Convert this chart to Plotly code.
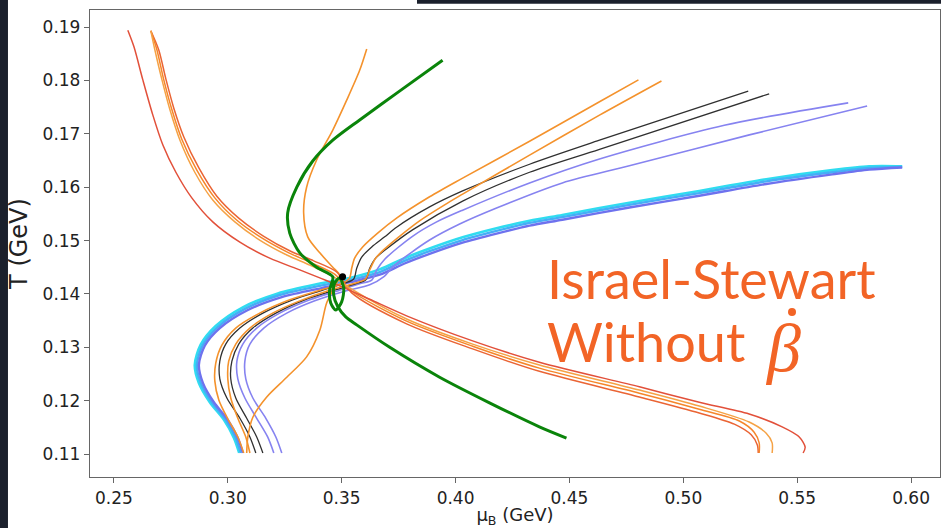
import plotly.graph_objects as go

# ---- trajectories in the (mu_B, T) plane, GeV ----
# lines rising from T = 0.11 towards the upper right
orange1_mu = [0.3070, 0.3044, 0.3000, 0.2961, 0.2943, 0.2947, 0.2974, 0.3035, 0.3140, 0.3272, 0.3404, 0.3504, 0.3535, 0.3544, 0.3557, 0.3592, 0.3658, 0.3741, 0.3886, 0.4031, 0.4325, 0.4632, 0.4803]
orange1_T = [0.1102, 0.1132, 0.1166, 0.1201, 0.1237, 0.1270, 0.1304, 0.1336, 0.1364, 0.1389, 0.1407, 0.1420, 0.1430, 0.1448, 0.1467, 0.1488, 0.1514, 0.1542, 0.1582, 0.1617, 0.1686, 0.1760, 0.1801]

orange2_mu = [0.3097, 0.3079, 0.3044, 0.3013, 0.3000, 0.3004, 0.3035, 0.3097, 0.3197, 0.3316, 0.3447, 0.3557, 0.3605, 0.3623, 0.3649, 0.3693, 0.3754, 0.3842, 0.3952, 0.4031, 0.4325, 0.4632, 0.4904]
orange2_T = [0.1102, 0.1132, 0.1167, 0.1205, 0.1241, 0.1274, 0.1306, 0.1336, 0.1364, 0.1387, 0.1407, 0.1420, 0.1428, 0.1445, 0.1467, 0.1486, 0.1508, 0.1537, 0.1567, 0.1587, 0.1660, 0.1735, 0.1799]

black1_mu = [0.3123, 0.3097, 0.3053, 0.2996, 0.2965, 0.2965, 0.2991, 0.3053, 0.3154, 0.3285, 0.3417, 0.3513, 0.3553, 0.3566, 0.3588, 0.3632, 0.3689, 0.3741, 0.3886, 0.4031, 0.4325, 0.4632, 0.5285]
black1_T = [0.1102, 0.1132, 0.1167, 0.1205, 0.1241, 0.1274, 0.1306, 0.1336, 0.1364, 0.1389, 0.1407, 0.1420, 0.1428, 0.1448, 0.1469, 0.1488, 0.1507, 0.1525, 0.1563, 0.1593, 0.1643, 0.1688, 0.1780]

black2_mu = [0.3154, 0.3127, 0.3083, 0.3035, 0.3013, 0.3018, 0.3048, 0.3110, 0.3211, 0.3338, 0.3469, 0.3561, 0.3605, 0.3623, 0.3649, 0.3702, 0.3811, 0.4031, 0.4325, 0.4632, 0.5377]
black2_T = [0.1102, 0.1132, 0.1167, 0.1205, 0.1241, 0.1274, 0.1306, 0.1336, 0.1364, 0.1389, 0.1407, 0.1419, 0.1426, 0.1448, 0.1467, 0.1486, 0.1520, 0.1574, 0.1628, 0.1671, 0.1775]

purple1_mu = [0.3202, 0.3175, 0.3127, 0.3075, 0.3044, 0.3040, 0.3066, 0.3127, 0.3228, 0.3360, 0.3491, 0.3579, 0.3632, 0.3654, 0.3689, 0.3811, 0.3917, 0.4031, 0.4325, 0.4632, 0.5180, 0.5724]
purple1_T = [0.1102, 0.1132, 0.1167, 0.1205, 0.1241, 0.1274, 0.1306, 0.1336, 0.1364, 0.1389, 0.1407, 0.1419, 0.1426, 0.1445, 0.1465, 0.1508, 0.1535, 0.1557, 0.1608, 0.1653, 0.1716, 0.1758]

purple2_mu = [0.3237, 0.3211, 0.3167, 0.3110, 0.3079, 0.3075, 0.3097, 0.3158, 0.3259, 0.3382, 0.3513, 0.3623, 0.3684, 0.3733, 0.3886, 0.4018, 0.4180, 0.4469, 0.4763, 0.5290, 0.5807]
purple2_T = [0.1102, 0.1132, 0.1167, 0.1205, 0.1241, 0.1274, 0.1306, 0.1336, 0.1364, 0.1387, 0.1405, 0.1417, 0.1432, 0.1454, 0.1501, 0.1531, 0.1561, 0.1608, 0.1640, 0.1698, 0.1752]

# thick bundle: cyan, sky blue and slate blue
bundle_mu = [0.3057, 0.3035, 0.2991, 0.2930, 0.2882, 0.2864, 0.2890, 0.2956, 0.3075, 0.3228, 0.3404, 0.3535, 0.3667, 0.3776, 0.3886, 0.4031, 0.4180, 0.4325, 0.4469, 0.4763, 0.5070, 0.5364, 0.5654, 0.5816, 0.5961]
sky_T = [0.1102, 0.1130, 0.1164, 0.1197, 0.1233, 0.1267, 0.1304, 0.1338, 0.1372, 0.1398, 0.1415, 0.1426, 0.1441, 0.1462, 0.1480, 0.1501, 0.1518, 0.1533, 0.1544, 0.1567, 0.1589, 0.1611, 0.1628, 0.1636, 0.1638]
cyan_mu = [0.3050, 0.3027, 0.2983, 0.2921, 0.2873, 0.2855, 0.2881, 0.2947, 0.3066, 0.3220, 0.3400, 0.3535, 0.3667, 0.3776, 0.3886, 0.4031, 0.4180, 0.4325, 0.4469, 0.4763, 0.5070, 0.5364, 0.5654, 0.5816, 0.5961]
cyan_T = [0.1102, 0.1130, 0.1164, 0.1197, 0.1233, 0.1267, 0.1305, 0.1340, 0.1375, 0.1401, 0.1419, 0.1430, 0.1446, 0.1467, 0.1485, 0.1506, 0.1523, 0.1537, 0.1548, 0.1571, 0.1593, 0.1615, 0.1632, 0.1639, 0.1639]
slate_mu = [0.3066, 0.3044, 0.3000, 0.2939, 0.2891, 0.2873, 0.2899, 0.2965, 0.3084, 0.3237, 0.3413, 0.3540, 0.3667, 0.3776, 0.3886, 0.4031, 0.4180, 0.4325, 0.4469, 0.4763, 0.5070, 0.5364, 0.5654, 0.5816, 0.5961]
slate_T = [0.1102, 0.1130, 0.1164, 0.1197, 0.1233, 0.1267, 0.1303, 0.1336, 0.1369, 0.1394, 0.1411, 0.1422, 0.1436, 0.1457, 0.1475, 0.1496, 0.1513, 0.1528, 0.1539, 0.1562, 0.1584, 0.1606, 0.1624, 0.1633, 0.1637]

# lines falling from T = 0.19 towards the lower right
redD_mu = [0.2561, 0.2588, 0.2627, 0.2671, 0.2715, 0.2772, 0.2842, 0.2934, 0.3053, 0.3184, 0.3316, 0.3404, 0.3491, 0.3623, 0.3785, 0.4075, 0.4368, 0.4807, 0.5070, 0.5289, 0.5434, 0.5509, 0.5535, 0.5526]
redD_T = [0.1894, 0.1863, 0.1801, 0.1735, 0.1679, 0.1628, 0.1580, 0.1535, 0.1497, 0.1467, 0.1445, 0.1430, 0.1415, 0.1390, 0.1359, 0.1312, 0.1272, 0.1226, 0.1197, 0.1175, 0.1151, 0.1132, 0.1113, 0.1102]

lightC_mu = [0.2662, 0.2680, 0.2711, 0.2746, 0.2790, 0.2855, 0.2934, 0.3031, 0.3140, 0.3259, 0.3360, 0.3461, 0.3544, 0.3785, 0.4075, 0.4368, 0.4807, 0.5070, 0.5289, 0.5364, 0.5390, 0.5390]
lightC_T = [0.1893, 0.1857, 0.1801, 0.1745, 0.1688, 0.1628, 0.1576, 0.1535, 0.1501, 0.1473, 0.1454, 0.1433, 0.1409, 0.1353, 0.1306, 0.1267, 0.1220, 0.1190, 0.1160, 0.1139, 0.1121, 0.1102]

orangeB_mu = [0.2662, 0.2689, 0.2719, 0.2754, 0.2798, 0.2864, 0.2943, 0.3040, 0.3149, 0.3268, 0.3368, 0.3469, 0.3544, 0.3785, 0.4075, 0.4368, 0.4807, 0.5070, 0.5246, 0.5311, 0.5333, 0.5333]
orangeB_T = [0.1893, 0.1857, 0.1801, 0.1746, 0.1690, 0.1632, 0.1580, 0.1538, 0.1505, 0.1477, 0.1458, 0.1437, 0.1405, 0.1349, 0.1302, 0.1261, 0.1214, 0.1184, 0.1162, 0.1141, 0.1121, 0.1102]

redE_mu = [0.2662, 0.2697, 0.2728, 0.2763, 0.2807, 0.2873, 0.2952, 0.3048, 0.3158, 0.3276, 0.3377, 0.3478, 0.3544, 0.3785, 0.4075, 0.4368, 0.4807, 0.5070, 0.5224, 0.5298, 0.5325, 0.5329]
redE_T = [0.1893, 0.1857, 0.1803, 0.1748, 0.1694, 0.1636, 0.1583, 0.1542, 0.1508, 0.1480, 0.1462, 0.1441, 0.1402, 0.1344, 0.1297, 0.1255, 0.1207, 0.1177, 0.1156, 0.1136, 0.1117, 0.1102]

# orange line coming down from the top and bending back to the left
orangeS_mu = [0.3610, 0.3579, 0.3522, 0.3461, 0.3390, 0.3346, 0.3333, 0.3351, 0.3404, 0.3461, 0.3491, 0.3474, 0.3434, 0.3404, 0.3346, 0.3259, 0.3171, 0.3110, 0.3088, 0.3083]
orangeS_T = [0.1859, 0.1819, 0.1763, 0.1707, 0.1651, 0.1600, 0.1552, 0.1507, 0.1477, 0.1450, 0.1435, 0.1417, 0.1383, 0.1332, 0.1282, 0.1244, 0.1207, 0.1169, 0.1132, 0.1102]

# green trajectory with the loop near the critical point
green_mu = [0.3943, 0.3754, 0.3579, 0.3461, 0.3373, 0.3303, 0.3263, 0.3272, 0.3316, 0.3390, 0.3461, 0.3447, 0.3452, 0.3474, 0.3500, 0.3509, 0.3491, 0.3469, 0.3465, 0.3482, 0.3518, 0.3566, 0.3711, 0.3930, 0.4149, 0.4368, 0.4487]
green_T = [0.1838, 0.1780, 0.1726, 0.1688, 0.1649, 0.1600, 0.1552, 0.1514, 0.1477, 0.1450, 0.1432, 0.1407, 0.1383, 0.1370, 0.1385, 0.1411, 0.1430, 0.1420, 0.1398, 0.1377, 0.1357, 0.1342, 0.1300, 0.1244, 0.1196, 0.1151, 0.1130]

# critical point
cp_mu = [0.3504]
cp_T = [0.1432]

x_ticks = [0.25, 0.30, 0.35, 0.40, 0.45, 0.50, 0.55, 0.60]
y_ticks = [0.11, 0.12, 0.13, 0.14, 0.15, 0.16, 0.17, 0.18, 0.19]

ORANGE = "#f4922c"
BLACK = "#303030"
PURPLE = "#8683f0"

traces = [
    (cyan_mu, cyan_T, "#30dcf0", 2.6),
    (bundle_mu, sky_T, "#45aef6", 2.4),
    (slate_mu, slate_T, "#6e72ee", 2.4),
    (purple2_mu, purple2_T, PURPLE, 1.6),
    (purple1_mu, purple1_T, PURPLE, 1.6),
    (black2_mu, black2_T, BLACK, 1.3),
    (black1_mu, black1_T, BLACK, 1.3),
    (orange2_mu, orange2_T, ORANGE, 1.6),
    (orange1_mu, orange1_T, ORANGE, 1.6),
    (orangeS_mu, orangeS_T, ORANGE, 1.6),
    (redE_mu, redE_T, "#ea6434", 1.5),
    (orangeB_mu, orangeB_T, "#f5862a", 1.5),
    (lightC_mu, lightC_T, "#f5a245", 1.5),
    (redD_mu, redD_T, "#e2503a", 1.5),
    (green_mu, green_T, "#0a840a", 3.0),
]

fig = go.Figure()
for xs, ys, color, width in traces:
    fig.add_trace(go.Scatter(
        x=xs, y=ys, mode="lines",
        line=dict(color=color, width=width, shape="spline", smoothing=0.8),
        hoverinfo="skip", showlegend=False,
    ))

fig.add_trace(go.Scatter(
    x=cp_mu, y=cp_T, mode="markers",
    marker=dict(color="black", size=7),
    hoverinfo="skip", showlegend=False,
))

TEXT_COLOR = "#f26426"
fig.add_annotation(
    text="Israel-Stewart", xref="paper", yref="paper", x=0.535, y=0.424,
    xanchor="left", yanchor="middle", showarrow=False,
    font=dict(family="Lato", size=54, color=TEXT_COLOR),
)
fig.add_annotation(
    text="Without", xref="paper", yref="paper", x=0.535, y=0.291,
    xanchor="left", yanchor="middle", showarrow=False,
    font=dict(family="Lato", size=54, color=TEXT_COLOR),
)
fig.add_annotation(
    text="<i>β</i>", xref="paper", yref="paper", x=0.792, y=0.276,
    xanchor="left", yanchor="middle", showarrow=False,
    font=dict(family="Liberation Serif", size=68, color=TEXT_COLOR),
)

shapes = [
    # dot over beta
    dict(type="circle", xref="paper", yref="paper",
         x0=0.8212, x1=0.8306, y0=0.3448, y1=0.3619,
         fillcolor=TEXT_COLOR, line=dict(width=0)),
    # dark page edges
    dict(type="rect", xref="paper", yref="paper",
         x0=-0.11, x1=-0.0965, y0=-0.2, y1=1.1,
         fillcolor="#1b202c", line=dict(width=0), layer="above"),
    dict(type="rect", xref="paper", yref="paper",
         x0=0.3847, x1=1.01, y0=1.0135, y1=1.05,
         fillcolor="#1b202c", line=dict(width=0), layer="above"),
]

fig.update_layout(
    width=941, height=528,
    margin=dict(l=90, r=1, t=10, b=51),
    paper_bgcolor="white", plot_bgcolor="white",
    font=dict(family="DejaVu Sans", color="#222222"),
    shapes=shapes,
    xaxis=dict(
        range=[0.2395, 0.6127], tickvals=x_ticks,
        ticktext=[f"{v:.2f}" for v in x_ticks],
        showline=True, mirror=True, linecolor="#666666", linewidth=1.3,
        ticks="outside", ticklen=5, tickcolor="#666666",
        showgrid=False, zeroline=False,
        tickfont=dict(size=17),
        title=dict(text="μ<sub>B</sub> (GeV)", font=dict(size=18), standoff=5),
    ),
    yaxis=dict(
        range=[0.1057, 0.1932], tickvals=y_ticks,
        ticktext=[f"{v:.2f}" for v in y_ticks],
        showline=True, mirror=True, linecolor="#666666", linewidth=1.3,
        ticks="outside", ticklen=5, tickcolor="#666666",
        showgrid=False, zeroline=False,
        tickfont=dict(size=17),
        title=dict(text="T (GeV)", font=dict(size=24), standoff=8),
    ),
)

fig.write_html("out.html")
